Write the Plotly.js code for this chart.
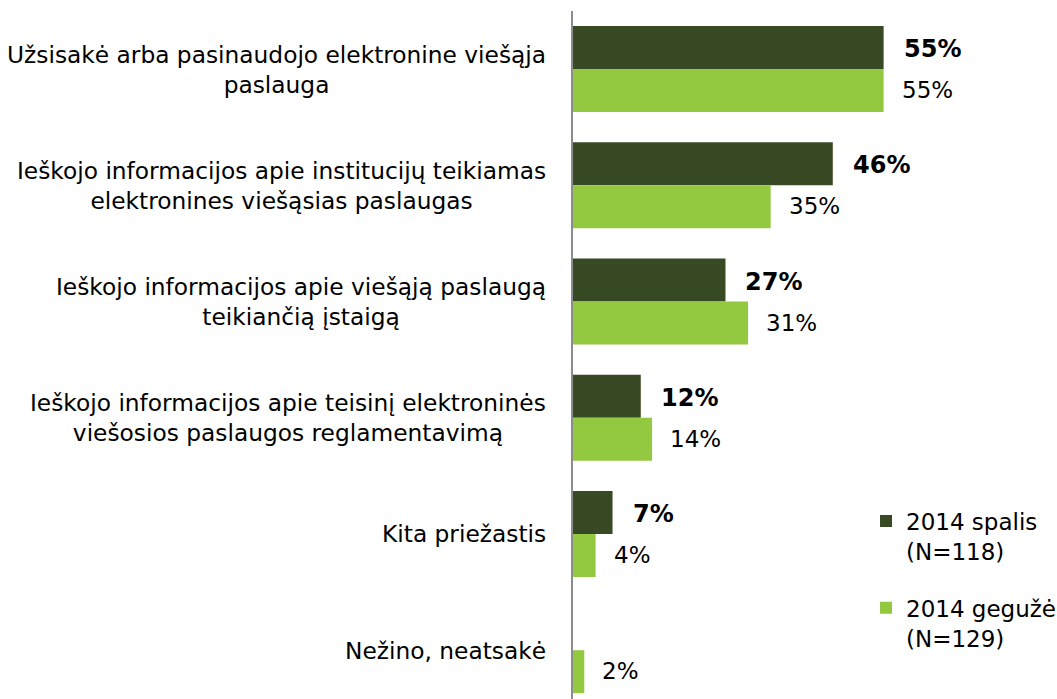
<!DOCTYPE html>
<html>
<head>
<meta charset="utf-8">
<script src="https://cdn.plot.ly/plotly-3.0.1.min.js"></script>
<style>html,body{margin:0;padding:0;background:#fff;}#chart{width:1057px;height:699px;}</style>
</head>
<body>
<div id="chart"></div>
<script>
const categories = [
  "Užsisakė arba pasinaudojo elektronine viešąja<br>paslauga",
  "Ieškojo informacijos apie institucijų teikiamas<br>elektronines viešąsias paslaugas",
  "Ieškojo informacijos apie viešąją paslaugą<br>teikiančią įstaigą",
  "Ieškojo informacijos apie teisinį elektroninės<br>viešosios paslaugos reglamentavimą",
  "Kita priežastis",
  "Nežino, neatsakė"
];
const spalisValues = [55, 46, 27, 12, 7, null];
const geguzeValues = [55, 35, 31, 14, 4, 2];
const seriesNames = ["2014 spalis<br>(N=118)", "2014 gegužė<br>(N=129)"];

const darkColor = "#384A23";
const lightColor = "#93C841";
const font = "DejaVu Sans, Verdana, sans-serif";

const traces = [
  {type: "bar", orientation: "h", name: seriesNames[0], legendgroup: "a", y: categories, x: spalisValues,
   marker: {color: darkColor}, hoverinfo: "x"},
  {type: "bar", orientation: "h", name: seriesNames[1], legendgroup: "b", y: categories, x: geguzeValues,
   marker: {color: lightColor}, hoverinfo: "x"}
];

const annotations = [];
categories.forEach((c, i) => {
  annotations.push({x: 0, xref: "paper", y: c, yref: "y", text: c, showarrow: false,
    xanchor: "right", yanchor: "middle", align: "center", xshift: -25,
    font: {family: font, size: 23.3, color: "#000"}});
  if (spalisValues[i] !== null) {
    annotations.push({x: spalisValues[i], y: c, xref: "x", yref: "y", text: "<b>" + spalisValues[i] + "%</b>",
      showarrow: false, xanchor: "left", yanchor: "middle", xshift: 18, yshift: 20,
      font: {family: font, size: 24, color: "#000"}});
  }
  annotations.push({x: geguzeValues[i], y: c, xref: "x", yref: "y", text: geguzeValues[i] + "%",
    showarrow: false, xanchor: "left", yanchor: "middle", xshift: 16, yshift: -21,
    font: {family: font, size: 23, color: "#000"}});
});

const layout = {
  width: 1057, height: 699,
  margin: {l: 573, r: 0, t: 11, b: 0, pad: 0, autoexpand: false},
  paper_bgcolor: "#fff", plot_bgcolor: "#fff",
  barmode: "group", bargap: 0.26, bargroupgap: 0,
  font: {family: font, size: 23, color: "#000"},
  xaxis: {range: [0, 85.7], visible: false, fixedrange: true},
  yaxis: {type: "category", range: [5.42, -0.5], showline: true, linecolor: "#8c8c8c", linewidth: 2,
    ticks: "", showgrid: false, zeroline: false, showticklabels: false},
  showlegend: true,
  legend: {x: 0.6054, y: 0.29, xanchor: "left", yanchor: "top", traceorder: "grouped",
    font: {family: font, size: 23, color: "#000"}, valign: "top", tracegroupgap: 24, bgcolor: "rgba(0,0,0,0)"},
  annotations: annotations
};

Plotly.newPlot("chart", traces, layout, {displayModeBar: false, staticPlot: true});
</script>
</body>
</html>
